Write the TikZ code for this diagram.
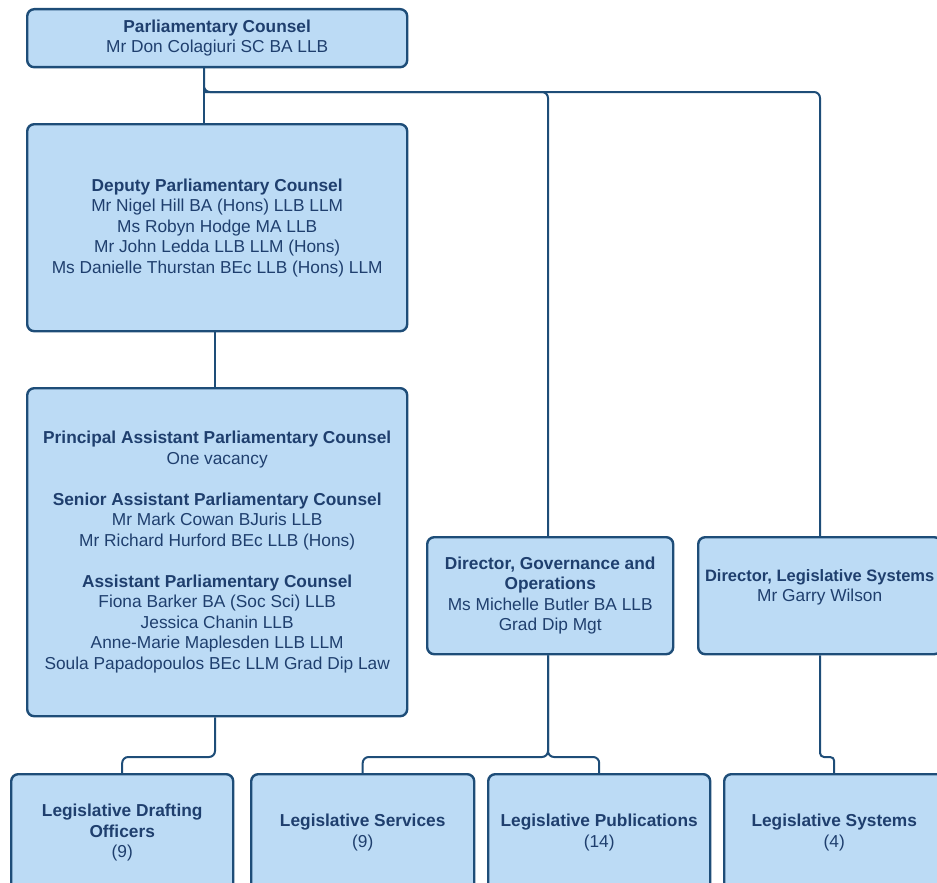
\documentclass[tikz,border=0pt]{standalone}
\usepackage{fontspec}
\setmainfont{Liberation Sans}
\usetikzlibrary{calc}
\definecolor{boxfill}{HTML}{BCDBF5}
\definecolor{boxline}{HTML}{1E4D78}
\definecolor{txt}{HTML}{1F3F6E}
\begin{document}
\begin{tikzpicture}[x=1pt,y=-1pt,
  box/.style={draw=boxline, line width=2.4pt, fill=boxfill, rounded corners=7pt,
    anchor=north west, align=center, text=txt, inner sep=0pt,
    font=\fontsize{17.3}{20.5}\selectfont},
  conn/.style={draw=boxline, line width=2pt, rounded corners=6pt}]
\useasboundingbox (0,0) rectangle (937,883);
\clip (0,0) rectangle (937,883);

\node[box, minimum width=380pt, minimum height=58pt] (pc) at (26,8)
  {\textbf{Parliamentary Counsel}\\Mr Don Colagiuri SC BA LLB};
\node[box, minimum width=380pt, minimum height=207pt] (dpc) at (26,123)
  {\textbf{Deputy Parliamentary Counsel}\\Mr Nigel Hill BA (Hons) LLB LLM\\Ms Robyn Hodge MA LLB\\Mr John Ledda LLB LLM (Hons)\\Ms Danielle Thurstan BEc LLB (Hons) LLM};
\node[box, minimum width=380pt, minimum height=328pt] (papc) at (26,387)
  {\textbf{Principal Assistant Parliamentary Counsel}\\One vacancy\\[20.5pt]
   \textbf{Senior Assistant Parliamentary Counsel}\\Mr Mark Cowan BJuris LLB\\Mr Richard Hurford BEc LLB (Hons)\\[20.5pt]
   \textbf{Assistant Parliamentary Counsel}\\Fiona Barker BA (Soc Sci) LLB\\Jessica Chanin LLB\\Anne-Marie Maplesden LLB LLM\\Soula Papadopoulos BEc LLM Grad Dip Law};
\node[box, minimum width=246pt, minimum height=117pt] (dgo) at (426,536)
  {\textbf{Director, Governance and}\\\textbf{Operations}\\Ms Michelle Butler BA LLB\\Grad Dip Mgt};
\node[box, minimum width=243pt, minimum height=117pt] (dls) at (697,536)
  {{\fontsize{16.5}{20.5}\selectfont\textbf{Director, Legislative Systems}}\\Mr Garry Wilson\\\mbox{}};
\node[box, minimum width=222pt, minimum height=117pt] (ldo) at (10,773)
  {\textbf{Legislative Drafting}\\\textbf{Officers}\\(9)};
\node[box, minimum width=223pt, minimum height=117pt] (ls) at (250,773)
  {\textbf{Legislative Services}\\(9)};
\node[box, minimum width=222pt, minimum height=117pt] (lp) at (487,773)
  {\textbf{Legislative Publications}\\(14)};
\node[box, minimum width=220pt, minimum height=117pt] (lsys) at (723,773)
  {\textbf{Legislative Systems}\\(4)};

\draw[conn] (pc.south -| 204,0) -- (dpc.north -| 204,0);
\draw[conn] (pc.south -| 204,0) -- (204,92) -- (548,92) -- (dgo.north -| 548,0);
\draw[conn] (204,92) -- (820,92) -- (dls.north -| 820,0);
\draw[conn] (dpc.south -| 215,0) -- (papc.north -| 215,0);
\draw[conn] (papc.south -| 215,0) -- (215,757) -- (ldo.north |- 0,757) -- (ldo.north);
\draw[conn] (dgo.south -| 548,0) -- (548,757) -- (ls.north |- 0,757) -- (ls.north);
\draw[conn] (dgo.south -| 548,0) -- (548,757) -- (lp.north |- 0,757) -- (lp.north);
\draw[conn, rounded corners=4pt] (dls.south -| 820,0) -- (820,757) -- (lsys.north |- 0,757) -- (lsys.north);
\end{tikzpicture}
\end{document}
